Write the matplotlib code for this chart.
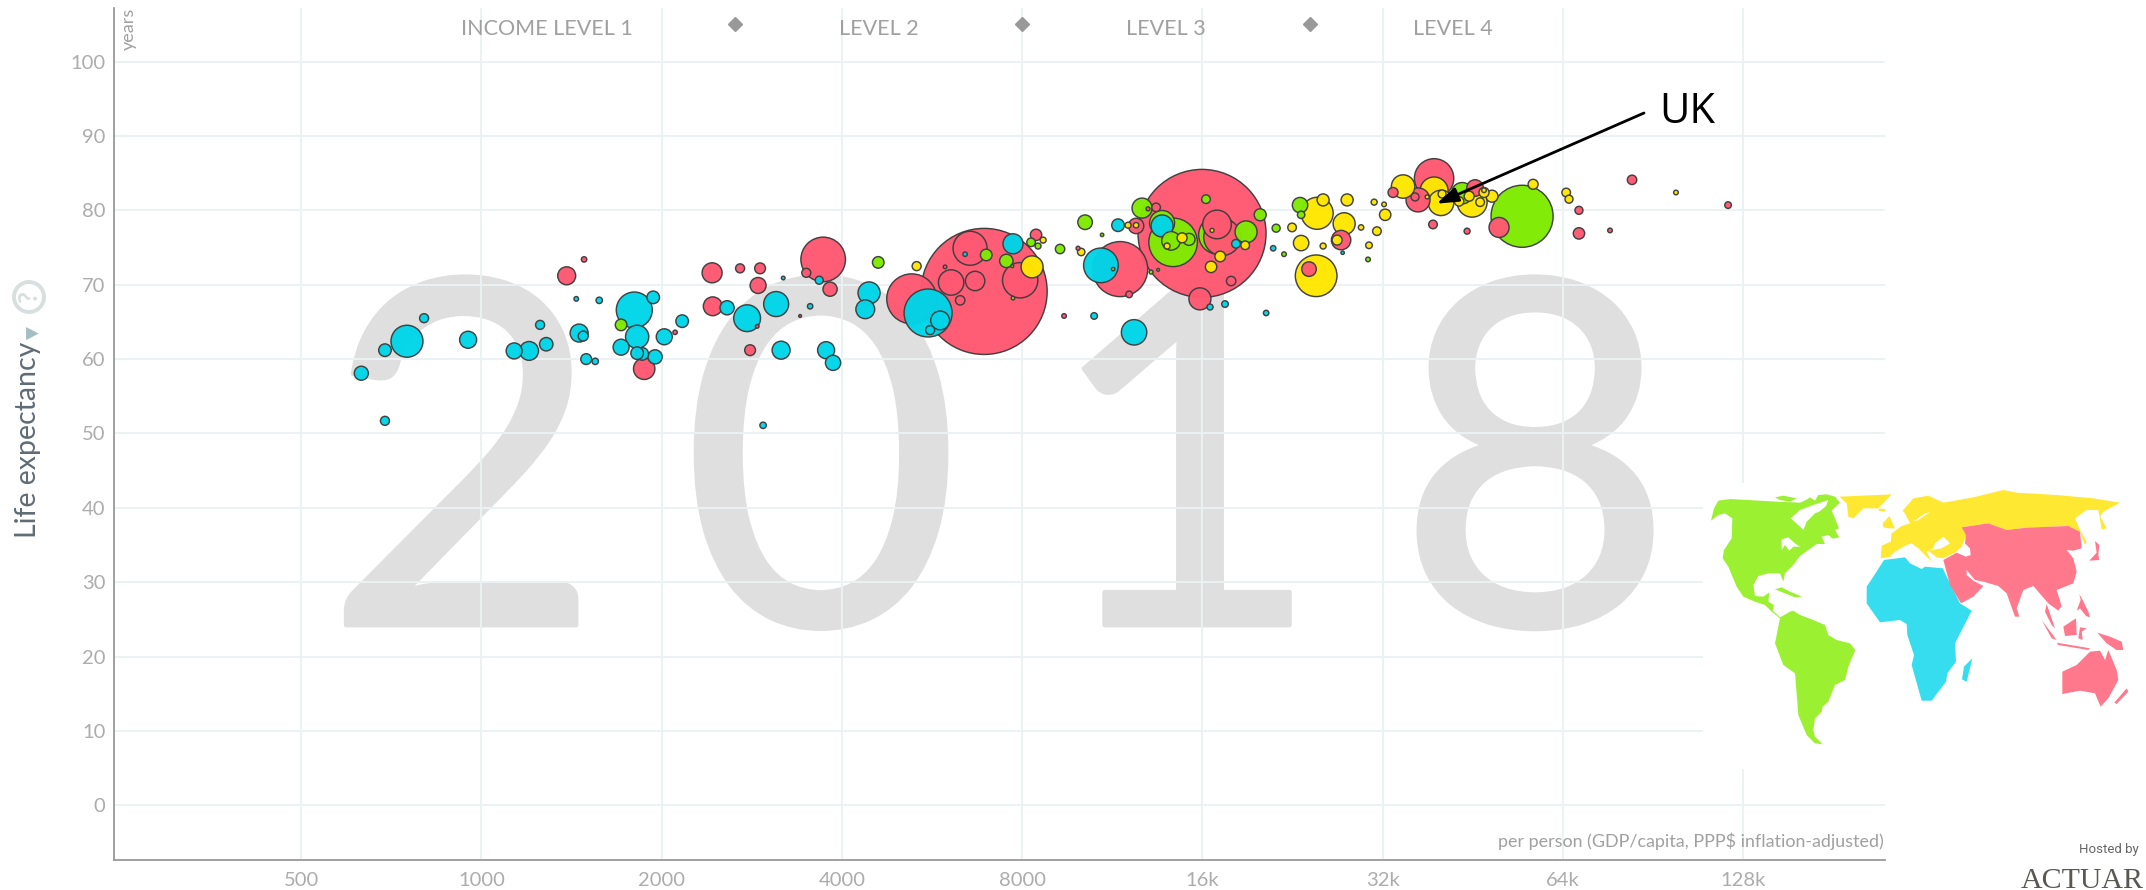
import numpy as np
import matplotlib
matplotlib.use("Agg")
import matplotlib.pyplot as plt
import matplotlib.patheffects as pe
from matplotlib.patches import Polygon, Rectangle, Circle

W, H = 2146, 890
plt.rcParams['font.family'] = ['Lato', 'DejaVu Sans']

# --- data: income per person, life expectancy (years), population (millions)
africa_gdp = [630,690,690,751,802,950,1134,1201,1283,1253,1456,1479,1496,1549,1440,1573,1800,1936,1820,1711,1856,1820,1950,2020,2164,3192,2572,2778,3106,3540,3666,3166,3764,3866,2954,4440,4376,5572,5836,5616,6424,7724,10832,11568,13704,18208,16480,17456,20448,10552,12304,21008,27440]
africa_life = [58.1,51.7,61.2,62.4,65.5,62.6,61.1,61.1,62.0,64.6,63.5,63.1,60.0,59.7,68.1,67.9,66.6,68.3,63.0,61.6,60.7,60.8,60.3,63.0,65.1,70.9,66.9,65.5,67.4,67.1,70.6,61.2,61.2,59.5,51.1,68.9,66.7,66.2,65.2,63.9,74.1,75.5,72.6,78.0,77.9,75.5,67.0,67.4,66.2,65.8,63.6,74.9,74.3]
africa_pop = [17,7,13.7,88.6,7,25,22.1,30.6,15.5,7,28,8.65,10.1,3.54,1.83,3.54,112,13.7,46.6,22.1,13.7,13.7,17.4,22.1,13.7,1.12,17.4,62.1,54,2.52,5.54,28,25,20,3.54,41.9,30.6,199,30.6,7,1.67,34.6,104,13.7,41.9,6.4,3.11,3.77,2.52,3.77,55.8,2.52,1]

asia_gdp = [1388,1484,1870,2106,2428,2704,2920,2898,2434,2888,3406,3722,3488,3822,2810,5232,6912,6548,6088,6676,5948,6304,7940,8440,9920,11664,12072,12400,12984,13392,15980,16928,17264,17872,15850,9400,27280,24112,39008,33312,36672,36256,38848,45664,44288,50080,68096,68096,76736,83520,120832]
asia_life = [71.2,73.4,58.7,63.6,71.6,72.2,72.2,69.9,67.1,64.4,65.8,73.4,71.6,69.4,61.2,68.1,69.1,74.9,70.3,70.5,72.4,67.9,70.6,76.7,74.9,72.1,68.7,77.9,80.2,80.4,76.9,78.1,76.4,70.5,68.1,65.8,76.0,72.1,84.3,82.4,81.4,81.8,78.1,83.0,77.2,77.7,80.0,76.9,77.3,84.1,80.7]
asia_pop = [28,2.52,39.6,1.67,34.6,7,10.1,22.1,30.6,1.12,0.68,172,7,17.4,10.1,216,1375,100,55.8,32.6,1.12,7.64,108,11.2,1.38,262,3.77,20.5,1.38,6.4,1417,70.8,118,7.64,41.9,1.83,32.6,18.4,134,8.65,49.8,5.54,6.4,23.8,3.11,34.6,5.54,11.2,1.83,7.64,3.77]

america_gdp = [1711,4600,6968,7724,7528,7700,8280,8504,9256,10192,10880,11352,12688,13704,14296,14184,15200,16224,18928,19984,16992,13136,13496,21248,21904,23296,23392,30256,43456,54720]
america_life = [64.6,73.0,74.0,68.2,73.2,72.5,75.7,75.2,74.8,78.4,76.7,72.1,80.3,78.3,75.7,75.9,76.1,81.5,77.1,79.4,76.7,71.7,72.0,77.6,74.1,80.7,79.4,73.4,82.3,79.2]
america_pop = [11.6,11.6,11.6,1.12,15.5,0.78,6.4,3.11,7.64,18.4,1,1,34.6,54,204,29.9,12.5,6.4,41.9,12.5,129,1.38,0.68,5.54,1.83,20.5,4.74,1.83,39.6,333]

europe_gdp = [5332,8312,8672,10040,12024,12400,14800,13968,16608,18864,17136,16544,22592,24880,25456,27920,27600,23392,25456,26864,24784,29456,30976,32184,32320,31312,30368,34624,39008,40064,40224,37984,45152,42944,44640,47264,48736,46560,47264,57088,64832,65536,98880]
europe_life = [72.5,72.4,76.0,74.4,78.0,78.0,76.3,75.2,77.3,75.3,73.8,72.4,77.7,79.6,81.4,81.4,78.2,75.6,75.2,76.0,71.2,77.7,81.1,80.8,79.4,77.2,75.3,83.2,82.6,81.0,82.2,81.8,81.1,81.2,81.9,82.4,81.9,81.1,82.7,83.5,82.4,81.5,82.4]
europe_pop = [7,41.9,3.11,4.74,3.11,2.52,8.65,3.11,1.38,6.4,9.72,11.2,6.4,88.6,12.5,12.5,41.9,20.5,3.11,8.65,150,2.52,3.11,1.83,11.2,6.4,3.77,47.4,67.8,55.8,5.54,1.38,77.9,7.64,8.65,8.65,12.5,6.4,1.83,8.65,6.4,5.54,1.83]

x_ticks = [500,1000,2000,4000,8000,16000,32000,64000,128000]
x_labels = ['500','1000','2000','4000','8000','16k','32k','64k','128k']
y_ticks = [0,10,20,30,40,50,60,70,80,90,100]
legend_labels = ['INCOME LEVEL 1','LEVEL 2','LEVEL 3','LEVEL 4']
year_digits = list('2018')
uk_tip = (39400, 80.9)

# --- map outlines (west and east halves have their own local units)
west_green = [
 [(33,122),(42,85),(55,62),(90,57),(230,65),(300,68),(318,60),(330,52),(345,62),(355,45),(380,43),(405,50),(420,68),(395,92),(405,115),(417,145),(405,150),(418,172),(398,176),(385,165),(365,170),(375,192),(350,192),(325,210),(300,228),(280,255),(255,280),(250,305),(240,280),(205,280),(175,288),(160,315),(165,348),(190,350),(208,337),(205,365),(222,375),(218,392),(240,412),(270,395),(280,392),(300,405),(340,420),(375,435),(385,465),(410,480),(450,490),(466,510),(445,560),(435,600),(405,615),(385,665),(368,680),(365,695),(345,715),(340,750),(345,770),(368,793),(345,790),(320,765),(295,705),(285,580),(250,555),(225,490),(235,440),(240,415),(215,395),(195,375),(165,365),(130,350),(110,320),(85,260),(68,235),(72,210),(95,175),(97,115),(75,100),(55,105)],
 [(225,52),(250,47),(290,55),(270,65),(240,60)],
 [(225,328),(245,322),(270,335),(306,350),(285,352),(255,340)],
]
west_holes = [
 [(272,115),(300,90),(340,75),(385,60),(378,78),(358,95),(345,100),(320,125),(310,150),(295,135)],
 [(245,178),(265,172),(285,190),(300,200),(280,200),(268,212),(255,195),(245,210)],
 [(85,278),(95,295),(100,320),(88,300)],
]
west_yellow = [
 [(418,50),(575,43),(550,70),(535,85),(490,85),(460,115),(445,110),(440,70)],
]
east_yellow = [
 [(62,235),(65,197),(92,185),(95,160),(125,138),(150,130),(135,100),(128,92),(160,55),(205,47),(250,68),(340,52),(430,30),(470,38),(590,45),(700,55),(780,68),(730,95),(720,108),(740,145),(725,148),(715,90),(680,90),(645,115),(660,150),(680,185),(675,195),(660,155),(625,138),(500,143),(440,150),(385,130),(305,142),(320,165),(305,200),(285,218),(250,235),(230,232),(205,212),(245,205),(270,190),(250,170),(225,190),(220,205),(200,215),(215,245),(195,225),(175,205),(155,190),(140,195),(105,215),(90,230)],
 [(68,130),(88,108),(105,145),(85,145),(70,142)],
 [(55,85),(78,88),(75,95),(58,93)],
]
east_holes = [
 [(160,125),(195,100),(210,97),(175,120)],
]
east_blue = [
 [(72,240),(135,232),(150,250),(185,267),(195,260),(248,265),(300,370),(335,392),(285,490),(288,545),(262,580),(258,605),(215,662),(185,662),(155,555),(162,525),(142,465),(140,432),(120,420),(60,427),(20,370),(20,320),(40,290)],
 [(337,535),(320,605),(306,598),(312,560)],
]
east_pink = [
 [(250,240),(290,218),(318,230),(332,225),(330,205),(315,190),(318,165),(305,142),(385,130),(440,150),(500,143),(625,138),(660,155),(665,205),(640,212),(620,210),(640,235),(650,275),(640,310),(590,330),(605,378),(595,392),(565,370),(520,318),(490,330),(470,385),(478,410),(465,410),(440,340),(415,318),(370,305),(345,300),(320,270),(320,285),(340,302),(370,318),(340,350),(303,370),(270,315)],
 [(560,372),(585,445),(575,435),(555,395)],
 [(545,420),(590,480),(575,475)],
 [(705,183),(718,195),(715,225),(718,240),(688,242),(710,218)],
 [(658,342),(668,360),(685,395),(690,412),(678,408),(660,385),(650,392),(662,360)],
 [(648,415),(650,465),(615,468),(610,440)],
 [(660,442),(680,445),(665,455),(668,480),(655,475)],
 [(590,488),(690,505),(685,510),(595,495)],
 [(712,458),(750,470),(785,485),(790,510),(770,510),(740,490)],
 [(607,575),(650,555),(690,515),(720,512),(735,540),(745,510),(770,570),(775,600),(745,655),(722,680),(705,640),(660,632),(607,642)],
 [(800,625),(805,635),(770,672),(763,668)],
]

# --- figure
fig = plt.figure(figsize=(W/100, H/100), dpi=100, facecolor='white')
L, R, T, B = 113.6, 1885, 8, 859.5
ax = fig.add_axes([L/W, (H-B)/H, (R-L)/W, (B-T)/H])
ax.set_xscale('log', base=2)
ax.set_xlim(243, 220950)
ax.set_ylim(-7.27, 107.2)
ax.minorticks_off()
ax.set_xticks(x_ticks, x_labels)
ax.set_yticks(y_ticks)
ax.tick_params(length=0, colors='#ACACAC', labelsize=14.5, pad=6)
ax.tick_params(axis='x', pad=9)
for s in ['top', 'right']:
    ax.spines[s].set_visible(False)
for s in ['left', 'bottom']:
    ax.spines[s].set_color('#999999')
    ax.spines[s].set_linewidth(1.3)

grid_c = '#EAF2F4'
for v in x_ticks:
    ax.axvline(v, color=grid_c, lw=1.4, zorder=1)
for v in y_ticks:
    ax.axhline(v, color=grid_c, lw=1.4, zorder=1)

# year watermark
digit_x = [463, 821, 1184, 1535]
for d, px in zip(year_digits, digit_x):
    ax.text(px/W, (H-625)/H, d, transform=fig.transFigure, ha='center', va='baseline',
            fontsize=346, color='#DFDFDF', zorder=0.5,
            path_effects=[pe.withStroke(linewidth=3.5, foreground='#DFDFDF', capstyle='round', joinstyle='round')])

# bubbles: biggest at the back
gdp = np.array(africa_gdp + asia_gdp + america_gdp + europe_gdp, float)
life = np.array(africa_life + asia_life + america_life + europe_life, float)
pop = np.array(africa_pop + asia_pop + america_pop + europe_pop, float)
cols = np.array(['#00D5E9']*len(africa_gdp) + ['#FF5872']*len(asia_gdp) +
                ['#7FEB00']*len(america_gdp) + ['#FFE700']*len(europe_gdp))
order = np.argsort(-pop, kind='stable')
diam_pt = 2*1.70*np.sqrt(pop)*0.72
ax.scatter(gdp[order], life[order], s=diam_pt[order]**2, c=cols[order],
           edgecolors='#3d3d3d', linewidths=1.05, alpha=0.97, zorder=3, clip_on=False)

# texts in the plot
ax.annotate('', xy=uk_tip, xytext=(1644/W, (H-113)/H), textcoords='figure fraction',
            arrowprops=dict(arrowstyle='-|>,head_length=0.5,head_width=0.17', mutation_scale=26,
                            color='black', lw=2.0, shrinkA=0, shrinkB=0), zorder=5)
fig.text(1687/W, (H-112)/H, 'UK', fontsize=30, color='black', family='Open Sans', ha='center', va='center')

legend_x = [547, 879, 1166, 1453]
for t, px in zip(legend_labels, legend_x):
    fig.text(px/W, (H-29)/H, t, fontsize=15.5, color='#A0A0A0', ha='center', va='center')
for px in [735, 1022, 1310]:
    ax.plot([px/W], [(H-24)/H], marker='D', ms=7.5, mfc='#999999', mec='#999999',
            transform=fig.transFigure, clip_on=False, zorder=4)

fig.text(1884/W, (H-841)/H, 'per person (GDP/capita, PPP$ inflation-adjusted)', fontsize=12.9, color='#A0A0A0', ha='right', va='center')
fig.text(129/W, (H-29)/H, 'years', fontsize=13, color='#A0A0A0', rotation=90, ha='center', va='center')
fig.text(28/W, (H-440)/H, 'Life expectancy', fontsize=20.5, color='#5F6B75', rotation=90, ha='center', va='center')
fig.text(32/W, (H-334)/H, '\u25B6', fontsize=12, color='#A3BEC2', ha='center', va='center', family='DejaVu Sans')
fig.add_artist(Circle((29, H-297), 15, transform=None, fc='white', ec='#D8DFDF', lw=2.8))
fig.text(29/W, (H-297)/H, '?', fontsize=19, color='#D8DFDF', rotation=90, ha='center', va='center', weight='bold')
fig.text(2109/W, (H-849)/H, 'Hosted by', fontsize=9.5, color='#666666', ha='center', va='center', family='Roboto')
fig.text(2021/W, 2/H, 'ACTUAR', fontsize=21.5, color='#5a5650', ha='left', va='baseline', family='Liberation Serif')

# map inset
mx = fig.add_axes([1680/W, 0, 466/W, 420/H], zorder=2)
mx.set_xlim(0, 1398); mx.set_ylim(1260, 0); mx.axis('off'); mx.patch.set_alpha(0)
mx.add_patch(Rectangle((68, 38), 1330, 859, fc='white', ec='none', zorder=1))
west_shift = np.array([60, 30])
east_shift = np.array([540, 30])
layers = [(west_yellow, west_shift, '#FFE832', 2), (east_yellow, east_shift, '#FFE832', 2),
          (west_green, west_shift, '#9BF032', 2), (east_blue, east_shift, '#35DDEE', 2),
          (east_pink, east_shift, '#FF788C', 3),
          (west_holes, west_shift, 'white', 4), (east_holes, east_shift, 'white', 4)]
for polys, shift, c, z in layers:
    for p in polys:
        mx.add_patch(Polygon(np.array(p) + shift, closed=True, fc=c, ec='none', zorder=z))

fig.savefig('out.png', dpi=100)
